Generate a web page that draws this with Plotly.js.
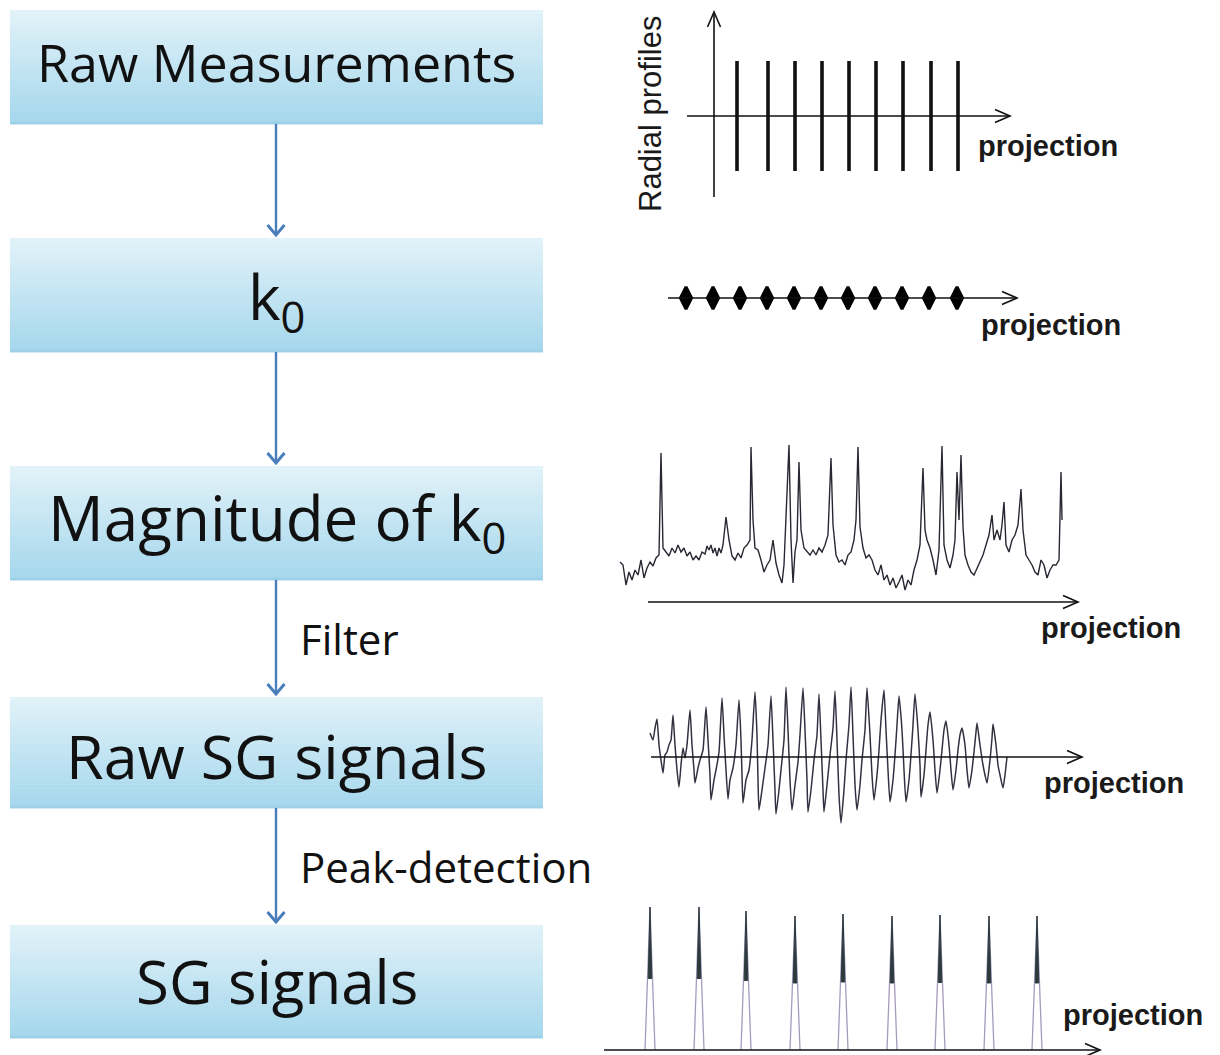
<!DOCTYPE html>
<html>
<head>
<meta charset="utf-8">
<script src="https://cdn.plot.ly/plotly-3.0.1.min.js"></script>
<style>html,body{margin:0;padding:0;background:#fff;}#chart{width:1220px;height:1055px;}</style>
</head>
<body>
<div id="chart"></div>
<script>
// ---------------- DATA ----------------
const steps = ["Raw Measurements", "k<sub>0</sub>", "Magnitude of k<sub>0</sub>", "Raw SG signals", "SG signals"];
const transitions = ["", "", "Filter", "Peak-detection"];
const axisLabel = "projection";
const radialAxisLabel = "Radial profiles";

// Panel 1: radial profile positions along projection axis, and their half-extent
const radialProfilePos = [23, 54, 81, 108, 135, 162, 189, 217, 244];
const radialProfileExtent = 55;

// Panel 2: k0 sample positions
const k0Pos = [18, 45, 72, 99, 126, 153, 180, 207, 234, 261, 289];

// Panel 3: magnitude of k0
const magX = [0,3,6,9,12,15,18,21,24,27,30,33,36,39,41,43,46,49,52,55,58,61,64,67,70,73,76,79,82,85,87,89,91,93,95,97,99,101,103,106,109,112,115,118,121,124,127,130,131,133,135,138,141,144,147,150,153,156,159,162,164,166,169,171,173,175,177,179,181,184,187,190,193,196,199,202,205,208,211,213,216,219,222,225,228,231,234,236,238,240,243,246,249,252,255,258,261,264,267,270,273,276,279,282,285,288,291,294,297,300,303,305,307,310,313,316,319,322,324,327,330,333,335,337,339,341,343,345,348,351,354,357,360,363,366,369,372,374,377,380,382,384,386,389,392,395,398,401,403,406,409,412,415,418,421,424,427,430,433,436,439,441,442];
const magY = [40,37,17,30,22,32,27,42,24,34,40,36,44,47,149,54,50,46,54,49,57,50,54,46,50,42,46,42,50,48,56,52,57,49,54,46,54,49,57,85,62,46,42,49,44,54,57,62,155,82,54,52,42,30,37,42,62,39,27,19,37,82,157,62,19,50,62,140,72,54,50,47,52,47,54,50,57,67,144,77,47,40,42,37,47,50,62,82,155,75,54,44,47,42,32,27,37,22,27,17,24,14,20,27,12,22,17,32,42,57,134,72,62,54,42,27,52,156,57,42,34,47,62,130,82,147,75,47,37,30,27,34,40,47,57,67,87,62,72,62,77,100,57,50,62,67,77,113,72,47,42,37,30,27,42,37,24,32,37,37,42,130,82];

// Panel 4: raw SG signals
const sgRawX = [0,3,5,7,9,11,13,15,17,19,21,23,25,27,29,31,33,35,37,40,42,44,45,48,50,53,56,58,60,61,64,66,69,72,74,76,78,80,83,86,89,91,92,93,96,99,102,105,107,108,109,112,115,118,121,123,125,126,129,131,134,136,138,140,142,145,148,150,153,155,157,158,161,164,167,169,171,173,174,177,180,183,185,187,189,191,194,196,199,201,203,205,207,210,212,215,217,220,222,224,227,229,231,234,236,238,240,243,245,247,249,252,254,256,259,261,263,265,268,270,271,274,276,278,280,283,285,287,290,292,294,296,299,301,303,306,308,310,312,315,317,319,322,324,326,327,330,333,335,337,340,342,343,346,348,350,353,355,357];
const sgRawY = [24,17,29,38,12,-3,-16,2,5,12,17,42,12,-13,-30,-8,9,-1,12,47,12,-13,-26,-11,-3,7,50,17,-18,-43,-23,-13,5,59,22,-13,-42,-23,-11,12,57,17,-18,-46,-23,-13,17,65,22,-23,-53,-33,-11,12,61,17,-33,-57,-33,-13,17,70,27,-23,-53,-28,-5,22,69,27,-23,-55,-33,-3,22,63,17,-33,-55,-28,2,29,66,17,-38,-66,-33,-3,32,70,22,-28,-53,-28,-3,27,69,22,-18,-43,-18,7,37,67,27,-13,-45,-23,2,32,61,27,-13,-45,-23,2,32,63,27,-8,-40,-18,7,32,45,17,-13,-36,-13,7,27,36,12,-13,-33,-13,7,22,29,12,-13,-31,-13,5,25,34,12,-8,-18,-26,-3,19,33,12,-8,-18,-31,-18,0];

// Panel 5: detected SG peaks
const sgPeakPos = [0, 49, 96, 145, 193, 242, 290, 339, 387];
const sgPeakHeight = [143, 143, 139, 134, 136, 134, 135, 134, 134];

// ---------------- LAYOUT HELPERS ----------------
const W = 1220, H = 1055;
const fx = p => p / W;
const fy = p => 1 - p / H;
const xAx = (l, r, v0, v1) => ({domain: [fx(l), fx(r)], range: [v0, v1], visible: false, fixedrange: true});
const yAx = (b, t, v0, v1) => ({domain: [fy(b), fy(t)], range: [v0, v1], visible: false, fixedrange: true});

const boxX0 = 10, boxX1 = 543;
const boxTop = [10, 238, 466, 697, 925];
const boxBot = [124, 352, 580, 808, 1038];
const boxTextY = [61, 300, 521, 755, 981];
const boxFontSize = [52, 62, 62, 61, 60];
const arrowX = 276;
const arrowColor = "#4a7ebb";
const textFont = "Open Sans, Noto Sans, sans-serif";
const sigFont = "Liberation Sans, Arial, sans-serif";

const shapes = [];
const annotations = [];
const P = (x, y) => `${fx(x)},${fy(y)}`;

// gradient boxes
function lerp(a, b, t) { return Math.round(a + (b - a) * t); }
const cTop = [226, 242, 249], cBot = [164, 214, 236];
const NSTRIP = 28;
for (let i = 0; i < steps.length; i++) {
  const t0 = boxTop[i], t1 = boxBot[i];
  for (let s = 0; s < NSTRIP; s++) {
    const ya = t0 + (t1 - t0) * s / NSTRIP;
    const yb = t0 + (t1 - t0) * (s + 1) / NSTRIP + 0.6;
    const t = (s + 0.5) / NSTRIP;
    const c = `rgb(${lerp(cTop[0], cBot[0], t)},${lerp(cTop[1], cBot[1], t)},${lerp(cTop[2], cBot[2], t)})`;
    shapes.push({type: "rect", xref: "paper", yref: "paper", x0: fx(boxX0), x1: fx(boxX1), y0: fy(yb), y1: fy(ya),
      fillcolor: c, line: {width: 0}, layer: "below"});
  }
  shapes.push({type: "line", xref: "paper", yref: "paper", x0: fx(boxX0), x1: fx(boxX1), y0: fy(t1 - 1), y1: fy(t1 - 1),
    line: {color: "#9cd0e6", width: 2}, layer: "below"});
  annotations.push({xref: "paper", yref: "paper", x: fx((boxX0 + boxX1) / 2), y: fy(boxTextY[i]),
    text: steps[i], showarrow: false, xanchor: "center", yanchor: "middle",
    font: {family: textFont, size: boxFontSize[i], color: "#111"}});
}
// blue arrows between boxes and transition labels
for (let i = 0; i < steps.length - 1; i++) {
  const from = boxBot[i], to = boxTop[i + 1] - 3;
  shapes.push({type: "line", xref: "paper", yref: "paper", x0: fx(arrowX), x1: fx(arrowX), y0: fy(from), y1: fy(to - 1),
    line: {color: arrowColor, width: 2.4}});
  shapes.push({type: "path", xref: "paper", yref: "paper",
    path: `M${P(arrowX - 8.5, to - 10)} L${P(arrowX, to)} L${P(arrowX + 8.5, to - 10)}`,
    line: {color: arrowColor, width: 3}});
  if (transitions[i]) {
    annotations.push({xref: "paper", yref: "paper", x: fx(298), y: fy((from + to) / 2 + 1),
      text: transitions[i], showarrow: false, xanchor: "left", yanchor: "middle",
      font: {family: textFont, size: 42, color: "#111"}});
  }
}

// black axis arrows for signal panels
function axisArrow(x0, y0, x1, y1) {
  shapes.push({type: "line", xref: "paper", yref: "paper", x0: fx(x0), x1: fx(x1), y0: fy(y0), y1: fy(y1),
    line: {color: "#111", width: 1.6}});
  const dx = Math.sign(x1 - x0), dy = Math.sign(y1 - y0);
  const L = 15, Wd = 6.5;
  let a, b;
  if (dx !== 0) { a = [x1 - dx * L, y1 - Wd]; b = [x1 - dx * L, y1 + Wd]; }
  else { a = [x1 - Wd, y1 - dy * L]; b = [x1 + Wd, y1 - dy * L]; }
  shapes.push({type: "path", xref: "paper", yref: "paper",
    path: `M${P(a[0], a[1])} L${P(x1, y1)} L${P(b[0], b[1])}`, line: {color: "#111", width: 1.6}});
}
function projLabel(x, y) {
  annotations.push({xref: "paper", yref: "paper", x: fx(x), y: fy(y), text: axisLabel, showarrow: false,
    xanchor: "left", yanchor: "middle", font: {family: sigFont, size: 29, color: "#1a1a1a", weight: "bold"}});
}
axisArrow(687, 116, 1010, 116);
axisArrow(714, 197, 714, 12);
projLabel(976, 146);
annotations.push({xref: "paper", yref: "paper", x: fx(650), y: fy(114), text: radialAxisLabel, textangle: -90,
  showarrow: false, xanchor: "center", yanchor: "middle", font: {family: sigFont, size: 31, color: "#1a1a1a"}});
axisArrow(668, 298, 1017, 298);
projLabel(979, 325);
axisArrow(648, 602, 1078, 602);
projLabel(1039, 628);
axisArrow(651, 757, 1082, 757);
projLabel(1042, 783);
axisArrow(604, 1050, 1100, 1050);
projLabel(1061, 1015);

// ---------------- TRACES ----------------
const traces = [];
// Panel 1
{
  const xs = [], ys = [];
  radialProfilePos.forEach(p => { xs.push(p, p, null); ys.push(-radialProfileExtent, radialProfileExtent, null); });
  traces.push({type: "scatter", mode: "lines", x: xs, y: ys, xaxis: "x", yaxis: "y",
    line: {color: "#111", width: 3.6}, hoverinfo: "skip"});
}
// Panel 2
traces.push({type: "scatter", mode: "markers", x: k0Pos, y: k0Pos.map(() => 0), xaxis: "x2", yaxis: "y2",
  marker: {symbol: "diamond-tall", size: 16, color: "#000", line: {color: "#000", width: 3}}, cliponaxis: false, hoverinfo: "skip"});
// Panel 3
traces.push({type: "scatter", mode: "lines", x: magX, y: magY, xaxis: "x3", yaxis: "y3",
  line: {color: "#2a2733", width: 1.4}, hoverinfo: "skip"});
// Panel 4
traces.push({type: "scatter", mode: "lines", x: sgRawX, y: sgRawY, xaxis: "x4", yaxis: "y4",
  line: {color: "#353040", width: 1.5, shape: "spline", smoothing: 0.5}, hoverinfo: "skip"});
// Panel 5
{
  const halfW = 5, darkFrac = 0.5, darkHalf = 1.8;
  const xs = [], ys = [], dx = [], dy = [];
  sgPeakPos.forEach((p, i) => {
    const h = sgPeakHeight[i];
    xs.push(p - halfW, p, p + halfW, null); ys.push(0, h, 0, null);
    dx.push(p - darkHalf, p, p + darkHalf, p - darkHalf, null); dy.push(h * darkFrac, h, h * darkFrac, h * darkFrac, null);
  });
  traces.push({type: "scatter", mode: "lines", x: xs, y: ys, xaxis: "x5", yaxis: "y5",
    line: {color: "#a69bbd", width: 1.3}, hoverinfo: "skip"});
  traces.push({type: "scatter", mode: "lines", x: dx, y: dy, xaxis: "x5", yaxis: "y5", fill: "toself",
    fillcolor: "#2c3a3e", line: {color: "#2c3a3e", width: 1}, hoverinfo: "skip"});
}

const layout = {
  width: W, height: H, margin: {l: 0, r: 0, t: 0, b: 0},
  paper_bgcolor: "#fff", plot_bgcolor: "rgba(0,0,0,0)", showlegend: false,
  xaxis: xAx(714, 1010, 0, 296), yaxis: yAx(197, 12, -81, 104),
  xaxis2: xAx(668, 1017, 0, 349), yaxis2: yAx(320, 276, -22, 22),
  xaxis3: xAx(615, 1067, -5, 447), yaxis3: yAx(602, 430, 0, 172),
  xaxis4: xAx(645, 1012, -5, 362), yaxis4: yAx(835, 675, -78, 82),
  xaxis5: xAx(640, 1047, -10, 397), yaxis5: yAx(1050, 895, 0, 155),
  shapes: shapes, annotations: annotations
};
Plotly.newPlot("chart", traces, layout, {staticPlot: true, displayModeBar: false});
</script>
</body>
</html>
